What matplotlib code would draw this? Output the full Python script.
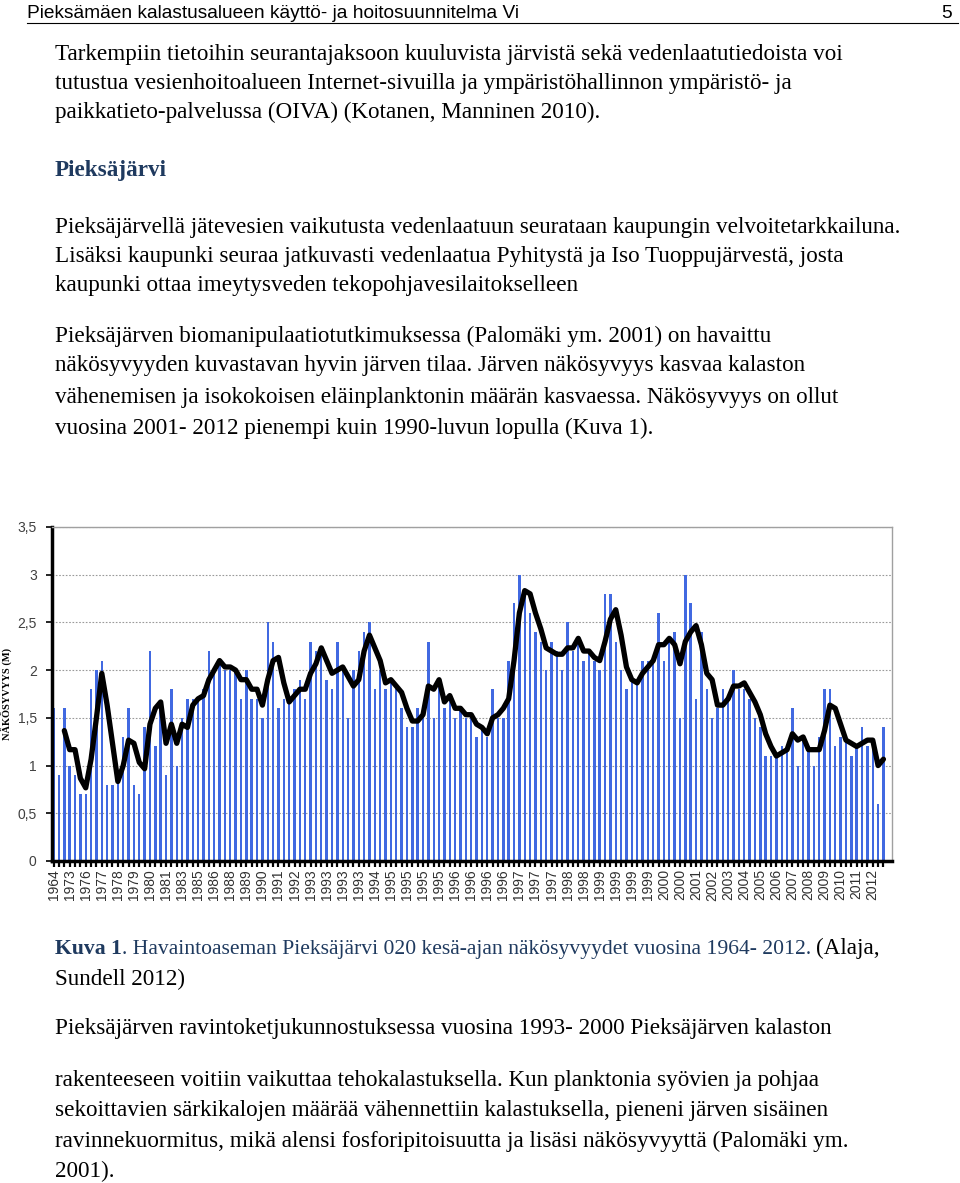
import numpy as np
import pandas as pd
import matplotlib
matplotlib.use("Agg")
import matplotlib.pyplot as plt

# Näkösyvyys (m), Pieksäjärvi 020, kesä-ajan havainnot 1964-2012
nakosyvyys = [
    1.6, 0.9, 1.6, 1.0, 0.9, 0.7, 0.7, 1.8, 2.0, 2.1,
    0.8, 0.8, 0.9, 1.3, 1.6, 0.8, 0.7, 1.4, 2.2, 1.2,
    1.6, 0.9, 1.8, 1.0, 1.5, 1.7, 1.7, 1.7, 1.8, 2.2,
    2.0, 2.1, 2.0, 2.0, 2.0, 1.7, 2.0, 1.7, 1.7, 1.5,
    2.5, 2.3, 1.6, 1.7, 1.7, 1.8, 1.9, 1.7, 2.3, 2.2,
    2.2, 1.9, 1.8, 2.3, 2.0, 1.5, 2.0, 2.2, 2.4, 2.5,
    1.8, 2.0, 1.8, 1.9, 1.8, 1.6, 1.4, 1.4, 1.6, 1.6,
    2.3, 1.5, 1.9, 1.6, 1.7, 1.5, 1.6, 1.5, 1.5, 1.3,
    1.4, 1.3, 1.8, 1.5, 1.5, 2.1, 2.7, 3.0, 2.8, 2.6,
    2.4, 2.3, 2.0, 2.3, 2.2, 2.0, 2.5, 2.2, 2.3, 2.1,
    2.2, 2.1, 2.0, 2.8, 2.8, 2.3, 2.0, 1.8, 1.9, 1.9,
    2.1, 2.1, 2.1, 2.6, 2.1, 2.3, 2.4, 1.5, 3.0, 2.7,
    1.7, 2.4, 1.8, 1.5, 1.6, 1.8, 1.7, 2.0, 1.8, 1.8,
    1.7, 1.5, 1.4, 1.1, 1.1, 1.1, 1.2, 1.2, 1.6, 1.0,
    1.3, 1.2, 1.0, 1.3, 1.8, 1.8, 1.2, 1.3, 1.3, 1.1,
    1.2, 1.4, 1.2, 1.2, 0.6, 1.4,
]

# joka kolmas luokka on nimetty x-akselilla
vuosi_nimet = [
    "1964", "1973", "1976", "1977", "1978", "1979", "1980", "1981", "1983",
    "1985", "1986", "1988", "1989", "1990", "1991", "1992", "1993", "1993",
    "1993", "1993", "1994", "1995", "1995", "1995", "1995", "1996", "1996",
    "1996", "1996", "1997", "1997", "1997", "1998", "1998", "1999", "1999",
    "1999", "1999", "2000", "2000", "2001", "2002", "2003", "2004", "2005",
    "2006", "2007", "2008", "2009", "2010", "2011", "2012",
]

# Excelin liukuva keskiarvo, jakso 3
liukuva = pd.Series(nakosyvyys).rolling(3).mean()

W, H = 960, 1183
fig = plt.figure(figsize=(W / 100, H / 100), dpi=100)

serif = ["Liberation Serif", "DejaVu Serif"]
sans = ["Liberation Sans", "DejaVu Sans"]
FS = 16.7


def teksti(x, y, s, **kw):
    kw.setdefault("family", serif)
    kw.setdefault("fontsize", FS)
    return fig.text(x / W, 1 - y / H, s, va="baseline", ha="left", **kw)


# ylätunniste
teksti(27, 18, "Pieksämäen kalastusalueen käyttö- ja hoitosuunnitelma Vi",
       family=sans, fontsize=13.8)
fig.text(952 / W, 1 - 18 / H, "5", family=sans, fontsize=13.8, ha="right",
         va="baseline")
fig.add_artist(plt.Line2D([27 / W, 958 / W], [1 - 23 / H, 1 - 23 / H],
                          color="black", lw=0.8))

rivit = [
    (60, "Tarkempiin tietoihin seurantajaksoon kuuluvista järvistä sekä vedenlaatutiedoista voi"),
    (89, "tutustua vesienhoitoalueen Internet-sivuilla ja ympäristöhallinnon ympäristö- ja"),
    (118, "paikkatieto-palvelussa (OIVA) (Kotanen, Manninen 2010)."),
    (233, "Pieksäjärvellä jätevesien vaikutusta vedenlaatuun seurataan kaupungin velvoitetarkkailuna."),
    (262, "Lisäksi kaupunki seuraa jatkuvasti vedenlaatua Pyhitystä ja Iso Tuoppujärvestä, josta"),
    (291, "kaupunki ottaa imeytysveden tekopohjavesilaitokselleen"),
    (342, "Pieksäjärven biomanipulaatiotutkimuksessa (Palomäki ym. 2001) on havaittu"),
    (371, "näkösyvyyden kuvastavan hyvin järven tilaa. Järven näkösyvyys kasvaa kalaston"),
    (403, "vähenemisen ja isokokoisen eläinplanktonin määrän kasvaessa. Näkösyvyys on ollut"),
    (434, "vuosina 2001- 2012 pienempi kuin 1990-luvun lopulla (Kuva 1)."),
    (1034, "Pieksäjärven ravintoketjukunnostuksessa vuosina 1993- 2000 Pieksäjärven kalaston"),
    (1086, "rakenteeseen voitiin vaikuttaa tehokalastuksella. Kun planktonia syövien ja pohjaa"),
    (1116, "sekoittavien särkikalojen määrää vähennettiin kalastuksella, pieneni järven sisäinen"),
    (1147, "ravinnekuormitus, mikä alensi fosforipitoisuutta ja lisäsi näkösyvyyttä (Palomäki ym."),
    (1177, "2001)."),
]
for y, s in rivit:
    teksti(55, y, s)

teksti(55, 176, "Pieksäjärvi", fontweight="bold", color="#1f3a5f")

# kuvateksti
CFS = 15.6
t1 = teksti(55, 954, "Kuva 1", fontsize=CFS, fontweight="bold", color="#1f3a5f")
fig.canvas.draw()
bb = t1.get_window_extent()
t2 = teksti(bb.x1, 954,
            ". Havaintoaseman Pieksäjärvi 020 kesä-ajan näkösyvyydet vuosina 1964- 2012. ",
            fontsize=CFS, color="#1f3a5f")
fig.canvas.draw()
bb = t2.get_window_extent()
teksti(bb.x1, 954, "(Alaja,", fontsize=FS)
teksti(55, 985, "Sundell 2012)", fontsize=FS)

# kaavio
ax = fig.add_axes([52 / W, 1 - 861 / H, (892 - 52) / W, (861 - 527) / H])
x = np.arange(len(nakosyvyys))
ax.bar(x, nakosyvyys, width=0.45, color="#4169e1", zorder=2)
ax.plot(x, liukuva, color="black", lw=3.8, solid_capstyle="round",
        solid_joinstyle="round", zorder=3)

ax.set_xlim(-0.3, 156.6)
ax.set_ylim(0, 3.5)
ax.set_yticks(np.arange(0, 3.51, 0.5))
ax.set_yticklabels(["0", "0,5", "1", "1,5", "2", "2,5", "3", "3,5"],
                   family=sans, fontsize=10, color="#404040")
ax.yaxis.grid(True, ls=(0, (1.5, 1.5)), color="#9a9a9a", lw=0.8, zorder=0)
ax.set_xticks(x, minor=True)
ax.set_xticks(x[::3])
ax.set_xticklabels(vuosi_nimet, rotation=90, family=sans, fontsize=10,
                   color="#303030")
ax.tick_params(axis="x", which="both", length=4, width=1.6, color="black",
               pad=2)
ax.tick_params(axis="y", length=4, width=1.2, color="black", pad=7)
for s in ("left", "bottom"):
    ax.spines[s].set_linewidth(2.5)
    ax.spines[s].set_color("black")
for s in ("top", "right"):
    ax.spines[s].set_linewidth(1.0)
    ax.spines[s].set_color("#a0a0a0")
ax.set_ylabel("NÄKÖSYVYYS (M)", family=serif, fontsize=7.5,
              fontweight="bold")
ax.yaxis.set_label_coords(-0.048, 0.5)

fig.savefig("out.png", dpi=100)
